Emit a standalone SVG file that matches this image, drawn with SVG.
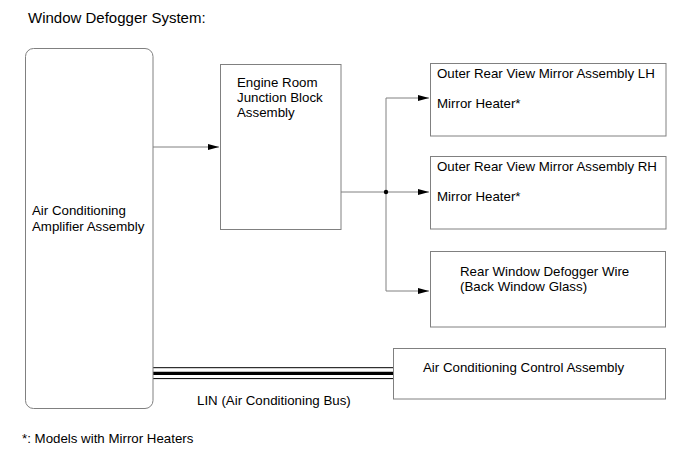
<svg xmlns="http://www.w3.org/2000/svg" width="690" height="465" viewBox="0 0 690 465">
<defs>
<style>
.box{fill:#fff;stroke:#808080;stroke-width:1}
.t{font-family:"Liberation Sans",Arial,sans-serif;font-size:13.3px;fill:#000}
.ttl{font-family:"Liberation Sans",Arial,sans-serif;font-size:15px;fill:#000}
.ln{fill:none;stroke:#808080;stroke-width:1}
</style>
<marker id="arr" markerWidth="12" markerHeight="8" refX="11" refY="4" orient="auto" markerUnits="userSpaceOnUse">
<path d="M0,1 L11,4 L0,7 Z" fill="#000"/>
</marker>
</defs>
<rect width="690" height="465" fill="#fff"/>
<text class="ttl" x="28" y="23">Window Defogger System:</text>

<g id="connectors">
<line class="ln" x1="153" y1="147" x2="219" y2="147" marker-end="url(#arr)"/>
<polyline class="ln" points="341,192 386,192"/>
<line class="ln" x1="386" y1="98" x2="386" y2="291"/>
<line class="ln" x1="386" y1="98" x2="429" y2="98" marker-end="url(#arr)"/>
<line class="ln" x1="386" y1="192" x2="429" y2="192" marker-end="url(#arr)"/>
<line class="ln" x1="386" y1="291" x2="429" y2="291" marker-end="url(#arr)"/>
<circle cx="386" cy="192" r="2.2" fill="#000"/>
<g id="lin-bus">
<line x1="153" y1="367.7" x2="394" y2="367.7" stroke="#000" stroke-width="1"/>
<line x1="153" y1="373.3" x2="394" y2="373.3" stroke="#000" stroke-width="3.2"/>
<line x1="153" y1="378.6" x2="394" y2="378.6" stroke="#000" stroke-width="1"/>
</g>
<text class="t" x="197" y="405">LIN (Air Conditioning Bus)</text>
</g>

<g id="ac-amplifier">
<rect class="box" x="25.5" y="48.5" width="127.5" height="360" rx="8" ry="8"/>
<text class="t" x="32" y="215">Air Conditioning</text>
<text class="t" x="32" y="231">Amplifier Assembly</text>
</g>

<g id="engine-room-jb">
<rect class="box" x="220.5" y="64.5" width="120.5" height="165"/>
<text class="t" x="237" y="87">Engine Room</text>
<text class="t" x="237" y="102">Junction Block</text>
<text class="t" x="237" y="117">Assembly</text>
</g>

<g id="mirror-lh">
<rect class="box" x="430.5" y="63.5" width="235.5" height="72.5"/>
<text class="t" x="437" y="78">Outer Rear View Mirror Assembly LH</text>
<text class="t" x="437" y="108">Mirror Heater*</text>
</g>

<g id="mirror-rh">
<rect class="box" x="430.5" y="156.5" width="235.5" height="72.5"/>
<text class="t" x="437" y="171">Outer Rear View Mirror Assembly RH</text>
<text class="t" x="437" y="201">Mirror Heater*</text>
</g>

<g id="rear-defogger">
<rect class="box" x="430.5" y="251.5" width="235" height="75.5"/>
<text class="t" x="460" y="276">Rear Window Defogger Wire</text>
<text class="t" x="460" y="291">(Back Window Glass)</text>
</g>

<g id="ac-control">
<rect class="box" x="393.5" y="348.5" width="272" height="50.5"/>
<text class="t" x="423" y="372">Air Conditioning Control Assembly</text>
</g>

<text class="t" x="22" y="443">*: Models with Mirror Heaters</text>
</svg>
